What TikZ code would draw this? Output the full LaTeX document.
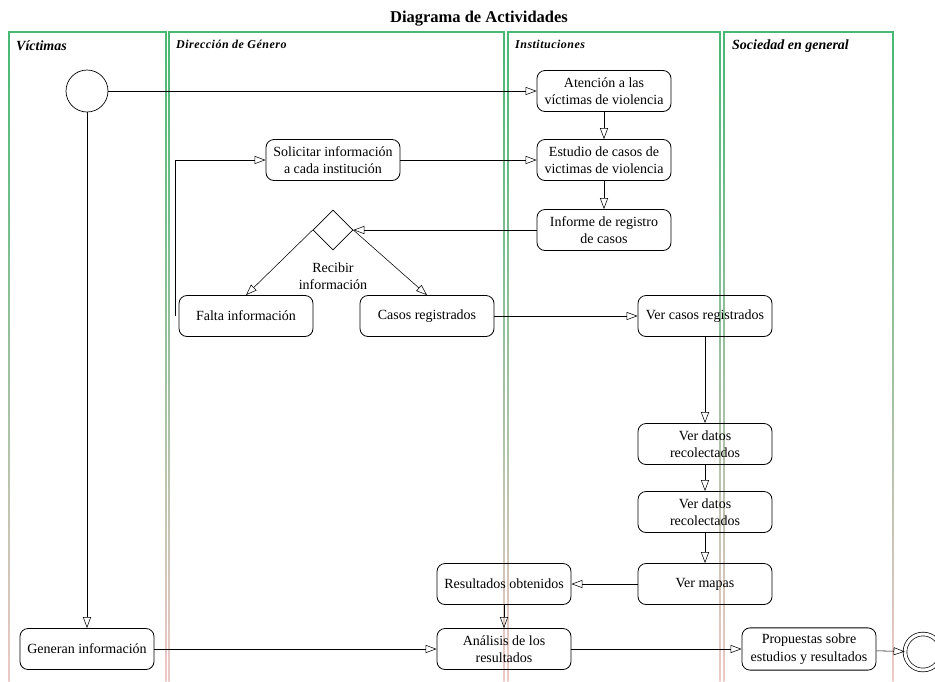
\documentclass[tikz,border=0pt]{standalone}
\usepackage{fontspec}
\setmainfont{Liberation Serif}
\newfontfamily\spacedfont[LetterSpace=4]{Liberation Serif}
\usetikzlibrary{shapes,arrows.meta}
\definecolor{lanegreen}{RGB}{70,185,115}
\definecolor{lanepink}{RGB}{238,200,200}
\tikzstyle{activity} = [rectangle, draw, line width=0.8pt, rounded corners=8pt,
    minimum width=134pt, minimum height=41pt, inner ysep=6pt, align=center,
    font=\fontsize{14}{17.5}\selectfont]
\tikzstyle{line} = [draw, line width=0.55pt, -{Triangle[open, length=11pt, width=8pt]}]
\tikzstyle{lanelabel} = [anchor=west, inner sep=0pt]

\begin{document}
\begin{tikzpicture}[x=1pt, y=-1pt, node distance=70pt]
    \useasboundingbox (0,0) rectangle (935,681);
    % Lanes
    \foreach \l/\r in {9/166, 169/504, 508/720, 724/893} {
        \shade [top color=lanegreen, bottom color=lanepink] (\l-0.7,32) rectangle (\l+0.7,681);
        \shade [top color=lanegreen, bottom color=lanepink] (\r-0.7,32) rectangle (\r+0.7,681);
        \draw [lanegreen, line width=1.4pt] (\l-0.7,32) -- (\r+0.7,32);
    }
    \node [font=\fontsize{16.5}{20}\selectfont\bfseries] (titulo) at (479,19) {Diagrama de Actividades};
    \node [lanelabel, font=\fontsize{14}{16}\selectfont\bfseries\itshape] (lvictimas) at (16,46) {Víctimas};
    \node [lanelabel, font=\fontsize{12}{14}\spacedfont\bfseries\itshape] (lgenero) at (176,44) {Dirección de Género};
    \node [lanelabel, font=\fontsize{12}{14}\spacedfont\bfseries\itshape] (linstituciones) at (515,44) {Instituciones};
    \node [lanelabel, font=\fontsize{14}{16}\selectfont\bfseries\itshape] (lsociedad) at (732,46) {Sociedad en general};
    % Place nodes
    \node [circle, draw, line width=0.7pt, minimum size=42pt] (ini) at (87,91) {};
    \node [activity, right of=ini, node distance=517pt] (atencion) {Atención a las\\víctimas de violencia};
    \node [activity, below of=atencion, node distance=69pt] (estudio) {Estudio de casos de\\victimas de violencia};
    \node [activity, below of=estudio] (informe) {Informe de registro\\de casos};
    \node [activity, left of=estudio, node distance=271pt] (solicitar) {Solicitar información\\a cada institución};
    \node [diamond, draw, line width=0.7pt, minimum size=40pt, inner sep=0pt, below of=solicitar] (decision) {};
    \node [below of=decision, node distance=46pt, align=center, font=\fontsize{14}{17.5}\selectfont] (recibir) {Recibir\\información};
    \node [activity] (falta) at (246,316) {Falta información};
    \node [activity, right of=falta, node distance=181pt] (casos) {Casos registrados};
    \node [activity, right of=casos, node distance=278pt] (vercasos) {Ver casos registrados};
    \node [activity, below of=vercasos, node distance=128pt] (verdatos1) {Ver datos\\recolectados};
    \node [activity, below of=verdatos1, node distance=68pt] (verdatos2) {Ver datos\\recolectados};
    \node [activity, below of=verdatos2, node distance=72pt] (mapas) {Ver mapas};
    \node [activity, left of=mapas, node distance=201pt] (resultados) {Resultados obtenidos};
    \node [activity, below of=resultados, node distance=65pt] (analisis) {Análisis de los\\resultados};
    \node [activity] (generan) at (87,649) {Generan información};
    \node [activity, right of=analisis, node distance=305pt] (propuestas) {Propuestas sobre\\estudios y resultados};
    \node [circle, draw, line width=0.7pt, double, double distance=3pt, minimum size=36pt] (fin) at (923,652) {};
    % Draw edges
    \path [line] (ini) -- (atencion);
    \path [line] (ini) -- (generan);
    \path [line] (atencion) -- (estudio);
    \path [line] (estudio) -- (informe);
    \path [line] (solicitar) -- (estudio);
    \path [line] (informe) -- (decision.east);
    \path [line] (decision.west) -- (falta.north);
    \path [line] (decision.east) -- (casos.north);
    \path [line] ([xshift=-3pt]falta.west) |- (solicitar.west);
    \path [line] (casos) -- (vercasos);
    \path [line] (vercasos) -- (verdatos1);
    \path [line] (verdatos1) -- (verdatos2);
    \path [line] (verdatos2) -- (mapas);
    \path [line] (mapas) -- (resultados);
    \path [line] (resultados) -- (analisis);
    \path [line] (generan) -- (analisis);
    \path [line] (analisis) -- (propuestas);
    \path [line] (propuestas) -- (fin);
\end{tikzpicture}
\end{document}
